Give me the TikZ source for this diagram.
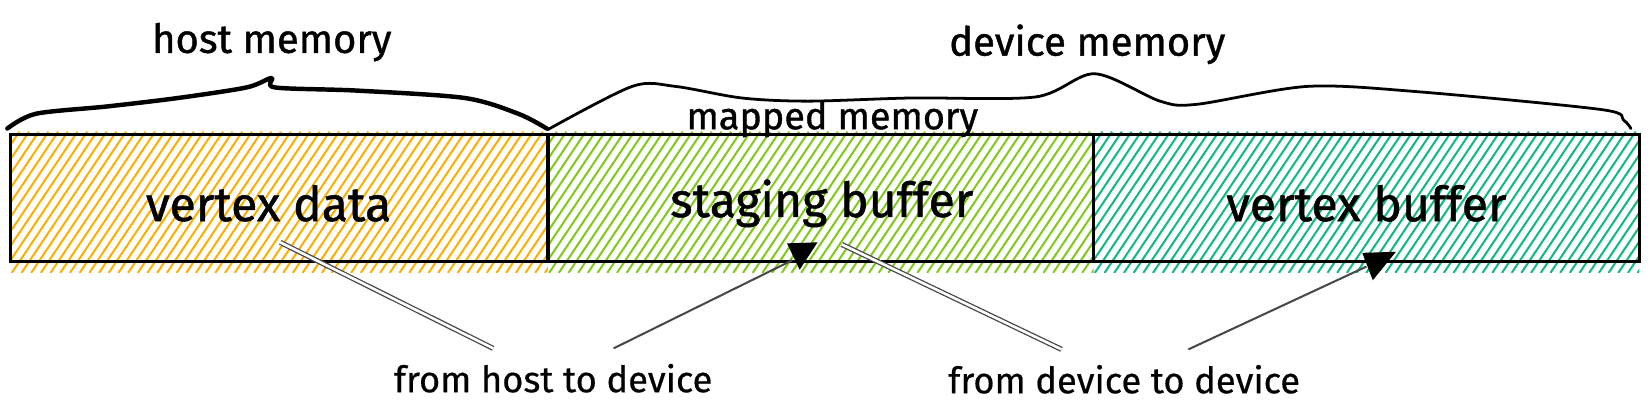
\documentclass[tikz,border=0pt]{standalone}
\usepackage{fontspec}
\setmainfont{Fira Sans}
\newfontfamily\thickfont[FakeBold=1]{Fira Sans}
\newfontfamily\midfont[FakeBold=0.5]{Fira Sans}
\usetikzlibrary{backgrounds,calc}
\definecolor{hatchA}{HTML}{FAB005}
\definecolor{hatchB}{HTML}{82C91E}
\definecolor{hatchC}{HTML}{12B886}
\definecolor{arrowgray}{HTML}{484848}
\newcommand\myhatch[3]{%
  \begin{scope}
    \clip (#1,125) rectangle (#2,259);
    \foreach \i in {0,...,74} {
      \draw[hatchline,#3] ({#1-100+\i*9.2},259) -- ++(90,-134);
    }
  \end{scope}}
\begin{document}
\begin{tikzpicture}[x=0.01cm,y=-0.01cm,
  membox/.style={draw=black,line width=0.85pt,minimum height=1.2cm,inner sep=0pt},
  boxlabel/.style={font=\thickfont\fontsize{13}{15}\selectfont},
  toplabel/.style={font=\thickfont\fontsize{10.8}{13}\selectfont},
  flowlabel/.style={font=\midfont\fontsize{9.8}{12}\selectfont,inner xsep=0.1cm,inner ysep=0.14cm},
  bracepath/.style={line width=1.2pt,line cap=round,line join=round},
  flowline/.style={draw=arrowgray,line width=0.55pt},
  hatchline/.style={line width=0.55pt}
]
\useasboundingbox (0,0) rectangle (1568,391);

% boxes
\node[membox,minimum width=5.1cm] (host) at (265,188) {};
\node[membox,minimum width=5.18cm] (staging) at (779,188) {};
\node[membox,minimum width=5.18cm] (vbuf) at (1297,188) {};

\begin{scope}[on background layer]
  \myhatch{10}{520}{hatchA}
  \myhatch{520}{1038}{hatchB}
  \myhatch{1038}{1556}{hatchC}
\end{scope}

% labels in boxes
\node[boxlabel] (vdata) at (255,193) {vertex data};
\node[boxlabel] (sbuf) at (780,193) {staging buffer};
\node[boxlabel] (vbuflbl) at (1297,193) {vertex buffer};

% top labels
\node[toplabel] (hostlbl) at (258,40) {host memory};
\node[toplabel] (devlbl) at (1032,42) {device memory};
\node[font=\thickfont\fontsize{10.2}{12}\selectfont] (maplbl) at (790,113) {mapped memory};

% braces
\draw[bracepath] plot[smooth,tension=0.5] coordinates {
  (7,122) (34,108) (102,101) (169,93) (234,83) (258,74) (261,83)
  (339,86) (441,93) (492,108) (519,122)};
\draw[bracepath,line width=0.75pt] plot[smooth,tension=0.5] coordinates {
  (520,123) (600,82) (641,82) (704,93) (767,96) (865,93) (983,92)
  (1039,70) (1101,96) (1136,99) (1241,82) (1345,87) (1520,104)
  (1541,114) (1548,122)};

% flows
\coordinate (s1) at (266,230);
\coordinate (t1) at (752,247);
\coordinate (s2) at (799,232);
\coordinate (t2) at (1297,253);
\node[flowlabel] (f1) at (525,359) {from host to device};
\node[flowlabel] (f2) at (1067,360) {from device to device};

\draw[flowline,line width=0.35pt,double=white,double distance=0.7pt] (s1) -- (f1);
\draw[flowline] (f1) -- (t1);
\fill (747,231) -- (776,230) -- (759,256) -- cycle;

\draw[flowline,line width=0.35pt,double=white,double distance=0.7pt] (s2) -- (f2);
\draw[flowline] (f2) -- (t2);
\fill (1293,240) -- (1325,239) -- (1303,266) -- cycle;
\end{tikzpicture}
\end{document}
